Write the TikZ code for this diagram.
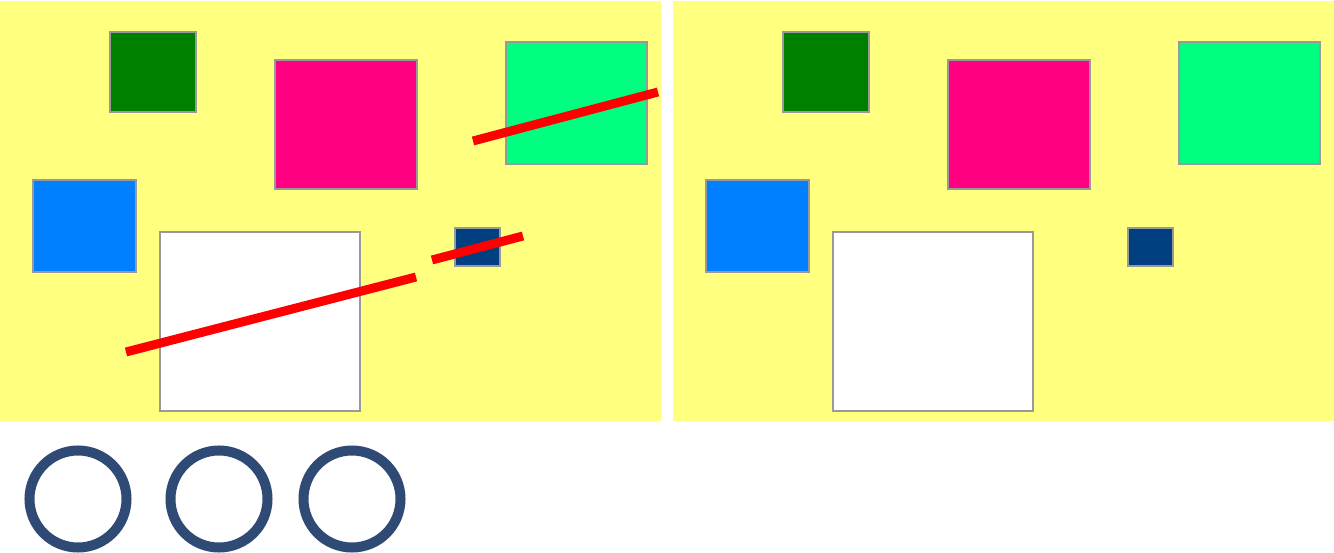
\documentclass[tikz,border=0pt]{standalone}
\definecolor{panel}{HTML}{FFFF80}
\definecolor{darkgreen}{HTML}{008000}
\definecolor{pink}{HTML}{FF0080}
\definecolor{spring}{HTML}{00FF80}
\definecolor{sky}{HTML}{0080FF}
\definecolor{navy}{HTML}{004080}
\definecolor{ring}{HTML}{2F4B75}
\definecolor{edge}{HTML}{999999}
\begin{document}
\begin{tikzpicture}[x=0.02cm,y=-0.02cm,
                    box/.style={draw=edge,line width=0.85pt},
                    cut/.style={draw=red,line width=5.1pt},
                    loop/.style={draw=ring,line width=5.7pt}]
  \useasboundingbox (0,0) rectangle (1334,553);

  \foreach \dx in {0,673} {
    \begin{scope}[xshift=\dx*0.02cm]
      \fill[panel] (0,1) rectangle (661,421);
      \filldraw[box,fill=darkgreen] (110,32) rectangle (196,112);
      \filldraw[box,fill=pink] (275,60) rectangle (417,189);
      \filldraw[box,fill=spring] (506,42) rectangle (647,164);
      \filldraw[box,fill=sky] (33,180) rectangle (136,272);
      \filldraw[box,fill=white] (160,232) rectangle (360,411);
      \filldraw[box,fill=navy] (455,228) rectangle (500,266);
    \end{scope}
  }

  % red cuts on the left panel
  \draw[cut] (473,141) -- (658,92);
  \draw[cut] (126,352) -- (416,277);
  \draw[cut] (432,260) -- (523,236);

  \foreach \cx in {78,219,352}
    \draw[loop] (\cx,499) circle (48.5);

\end{tikzpicture}
\end{document}
